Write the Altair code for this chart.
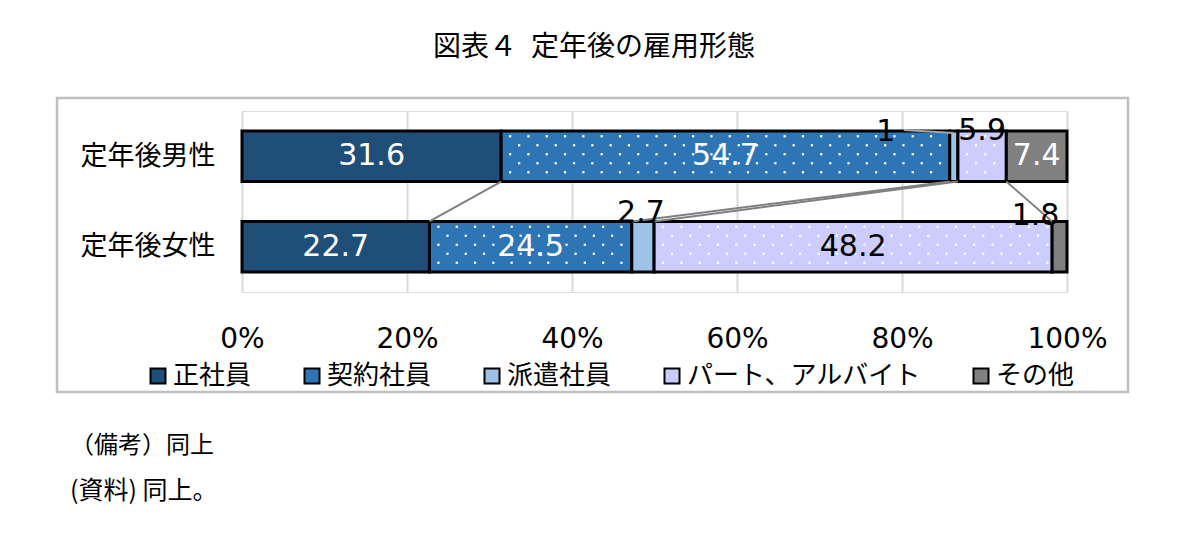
import altair as alt
import pandas as pd

# ---------------- data ----------------
groups = ["定年後男性", "定年後女性"]
categories = ["正社員", "契約社員", "派遣社員", "パート、アルバイト", "その他"]
male_values = [31.6, 54.7, 1, 5.9, 7.4]
female_values = [22.7, 24.5, 2.7, 48.2, 1.8]
x_ticks = [0, 0.2, 0.4, 0.6, 0.8, 1.0]
title_text = "図表４\u2002定年後の雇用形態"
note_lines = ["（備考）同上", "(資料) 同上。"]

# ---------------- styles ----------------
colors = ["#1F4E79", "#2E75B6", "#9DC3E6", "#CCCCFF", "#808080"]
dotted = {"契約社員", "パート、アルバイト"}
dark = {"正社員", "契約社員", "その他"}
# pixel offsets (dx, dy) of labels drawn outside their segment
label_offsets = {
    ("定年後男性", "派遣社員"): (-68, -24),
    ("定年後男性", "パート、アルバイト"): (0, -25),
    ("定年後女性", "派遣社員"): (-2, -34),
    ("定年後女性", "その他"): (-24, -31),
}
W, H = 825, 181
PX_Y = H / 2.0          # pixels per y unit (domain -0.5..1.5)
HALF = 0.28             # half bar thickness in y units
JP = "Noto Sans CJK JP"
NUM = "DejaVu Sans"

rows, dots, series, leader = [], [], [], []
ends = {}
for g, vals, pos in zip(groups, [male_values, female_values], [1, 0]):
    total = sum(vals)
    cum = 0.0
    ends[g] = []
    for c, v in zip(categories, vals):
        start = cum / total
        cum += v
        end = cum / total
        ends[g].append(end)
        mid = (start + end) / 2
        dx, dy = label_offsets.get((g, c), (0, 0))
        inside = (dx, dy) == (0, 0)
        rows.append(dict(group=g, cat=c, label=f"{v:g}", start=start, end=end,
                         y0=pos - HALF, y1=pos + HALF,
                         xl=mid + dx / W, yl=pos - dy / PX_Y,
                         tcol="#FFFFFF" if (inside and c in dark) else "#000000"))
        if c in dotted:
            for r in range(5):
                off_px = -20 + 9 * r
                xp = start * W + (9 if r % 2 else 0) + 9
                while xp < end * W - 4:
                    dots.append(dict(x=xp / W, y=pos - off_px / PX_Y))
                    xp += 18.3
        if g == groups[0] and c == "派遣社員":
            leader.append(dict(x=mid - 50 / W, x2=mid,
                               y=pos + HALF + 1 / PX_Y, y2=pos + HALF - 2 / PX_Y))

for k in range(len(categories) - 1):
    series.append(dict(x=ends[groups[0]][k], x2=ends[groups[1]][k],
                       y=1 - HALF, y2=0 + HALF))

df = pd.DataFrame(rows)
df_dots = pd.DataFrame(dots)
df_series = pd.DataFrame(series)
df_leader = pd.DataFrame(leader)

xscale = alt.Scale(domain=[0, 1], nice=False, zero=False)
yscale = alt.Scale(domain=[-0.5, 1.5], nice=False, zero=False)

ylabel_expr = f"datum.value == 1 ? '{groups[0]}' : '{groups[1]}'"

bars = alt.Chart(df).mark_rect(stroke="black", strokeWidth=3).encode(
    x=alt.X("start:Q", scale=xscale, title=None,
            axis=alt.Axis(values=x_ticks, format=".0%", grid=True, gridColor="#D9D9D9",
                          gridWidth=2, ticks=False, domain=False, labelFont=NUM,
                          labelFontSize=28, labelPadding=33, labelColor="black",
                          labelFlush=False, labelOverlap=False)),
    x2="end:Q",
    y=alt.Y("y0:Q", scale=yscale, title=None,
            axis=alt.Axis(values=[0, 1], labelExpr=ylabel_expr, grid=False, ticks=False,
                          domain=False, labelFont=JP, labelFontSize=27, labelPadding=27,
                          labelColor="black")),
    y2="y1:Q",
    color=alt.Color("cat:N", sort=categories,
                    scale=alt.Scale(domain=categories, range=colors),
                    legend=alt.Legend(orient="none", legendX=-97, legendY=252,
                                      direction="horizontal", columns=5, title=None,
                                      symbolType="square", symbolSize=225,
                                      symbolStrokeColor="black", symbolStrokeWidth=2,
                                      symbolOpacity=1, labelFont=JP, labelFontSize=26,
                                      labelColor="black", labelOffset=2,
                                      columnPadding=47, labelLimit=400)),
)

dot_layer = alt.Chart(df_dots).mark_square(size=5, color="white", opacity=1).encode(
    x=alt.X("x:Q", scale=xscale, title=None),
    y=alt.Y("y:Q", scale=yscale, title=None),
)

series_layer = alt.Chart(df_series).mark_rule(color="#808080", strokeWidth=2).encode(
    x=alt.X("x:Q", scale=xscale, title=None), x2="x2:Q",
    y=alt.Y("y:Q", scale=yscale, title=None), y2="y2:Q",
)

leader_layer = alt.Chart(df_leader).mark_rule(color="#A6A6A6", strokeWidth=2).encode(
    x=alt.X("x:Q", scale=xscale, title=None), x2="x2:Q",
    y=alt.Y("y:Q", scale=yscale, title=None), y2="y2:Q",
)

labels = alt.Chart(df).mark_text(font=NUM, fontSize=30, baseline="middle", align="center").encode(
    x=alt.X("xl:Q", scale=xscale, title=None),
    y=alt.Y("yl:Q", scale=yscale, title=None),
    text="label:N",
    color=alt.Color("tcol:N", scale=None),
)

frame = alt.Chart(pd.DataFrame({"k": [0]})).mark_rect(
    fillOpacity=0, stroke="#BFBFBF", strokeWidth=2.5).encode(
    x=alt.value(-185), x2=alt.value(886), y=alt.value(-13), y2=alt.value(281))

title = alt.Chart(pd.DataFrame({"t": [title_text]})).mark_text(
    font=JP, fontSize=28, color="black", align="center", baseline="middle").encode(
    text="t:N", x=alt.value(352), y=alt.value(-63))

note1 = alt.Chart(pd.DataFrame({"t": [note_lines[0]]})).mark_text(
    font=JP, fontSize=24, color="black", align="left", baseline="middle").encode(
    text="t:N", x=alt.value(-172), y=alt.value(335))
note2 = alt.Chart(pd.DataFrame({"t": [note_lines[1]]})).mark_text(
    font=JP, fontSize=25, color="black", align="left", baseline="middle").encode(
    text="t:N", x=alt.value(-172), y=alt.value(380))

chart = alt.layer(
    bars, frame, dot_layer, series_layer, leader_layer, labels, title, note1, note2
).properties(
    width=W, height=H,
    autosize=alt.AutoSizeParams(type="none"),
    padding={"left": 234, "top": 103, "right": 101, "bottom": 236},
    background="white",
).configure_view(stroke="#D9D9D9", strokeWidth=2).configure(font=JP)

chart.save("out.html", embed_options={"renderer": "svg", "actions": False})
